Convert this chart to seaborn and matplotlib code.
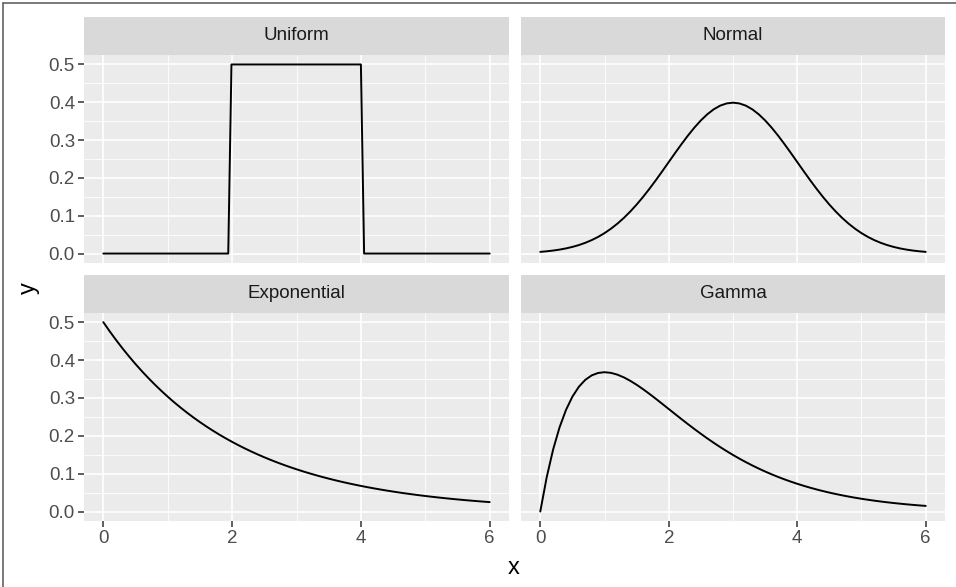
import numpy as np
import pandas as pd
import seaborn as sns
import matplotlib.pyplot as plt
from matplotlib.lines import Line2D
from matplotlib.patches import Rectangle

# Panel order
dist_names = ["Uniform", "Normal", "Exponential", "Gamma"]

# Uniform(2, 4) density
x_uniform = [0.0, 1.94, 1.99, 4.0, 4.05, 6.0]
y_uniform = [0.0, 0.0, 0.5, 0.5, 0.0, 0.0]

# Shared evaluation grid for the smooth curves (0 to 6 in steps of 0.1)
x_grid = [round(0.1 * i, 1) for i in range(61)]

# Normal(3, 1) density
y_normal = [0.00443, 0.00595, 0.00792, 0.01042, 0.01358, 0.01753, 0.02239, 0.02833,
            0.03547, 0.04398, 0.05399, 0.06562, 0.07895, 0.09405, 0.11092, 0.12952,
            0.14973, 0.17137, 0.19419, 0.21785, 0.24197, 0.26609, 0.28969, 0.31225,
            0.33322, 0.35207, 0.36827, 0.38139, 0.39104, 0.39695, 0.39894,
            0.39695, 0.39104, 0.38139, 0.36827, 0.35207, 0.33322, 0.31225, 0.28969,
            0.26609, 0.24197, 0.21785, 0.19419, 0.17137, 0.14973, 0.12952, 0.11092,
            0.09405, 0.07895, 0.06562, 0.05399, 0.04398, 0.03547, 0.02833, 0.02239,
            0.01753, 0.01358, 0.01042, 0.00792, 0.00595, 0.00443]

# Exponential(rate 0.5) density
y_expo = [0.50000, 0.47561, 0.45242, 0.43035, 0.40937, 0.38940, 0.37041, 0.35234,
          0.33516, 0.31881, 0.30327, 0.28847, 0.27441, 0.26102, 0.24829, 0.23618,
          0.22466, 0.21371, 0.20328, 0.19337, 0.18394, 0.17497, 0.16644, 0.15832,
          0.15060, 0.14325, 0.13627, 0.12962, 0.12330, 0.11729, 0.11157, 0.10612,
          0.10095, 0.09603, 0.09134, 0.08689, 0.08265, 0.07862, 0.07478, 0.07114,
          0.06767, 0.06437, 0.06123, 0.05824, 0.05540, 0.05270, 0.05013, 0.04768,
          0.04536, 0.04315, 0.04104, 0.03904, 0.03714, 0.03533, 0.03360, 0.03196,
          0.03041, 0.02892, 0.02751, 0.02617, 0.02489]

# Gamma(shape 2, rate 1) density
y_gamma = [0.00000, 0.09048, 0.16375, 0.22225, 0.26813, 0.30327, 0.32929, 0.34761,
           0.35946, 0.36591, 0.36788, 0.36616, 0.36143, 0.35429, 0.34524, 0.33470,
           0.32304, 0.31056, 0.29754, 0.28418, 0.27067, 0.25716, 0.24377, 0.23060,
           0.21772, 0.20521, 0.19311, 0.18146, 0.17027, 0.15957, 0.14936, 0.13965,
           0.13044, 0.12171, 0.11347, 0.10569, 0.09837, 0.09148, 0.08501, 0.07894,
           0.07326, 0.06795, 0.06298, 0.05835, 0.05402, 0.04999, 0.04624, 0.04275,
           0.03950, 0.03649, 0.03369, 0.03109, 0.02869, 0.02646, 0.02439, 0.02248,
           0.02071, 0.01907, 0.01756, 0.01616, 0.01487]

df = pd.concat([
    pd.DataFrame({"x": x_uniform, "y": y_uniform, "dist": "Uniform"}),
    pd.DataFrame({"x": x_grid, "y": y_normal, "dist": "Normal"}),
    pd.DataFrame({"x": x_grid, "y": y_expo, "dist": "Exponential"}),
    pd.DataFrame({"x": x_grid, "y": y_gamma, "dist": "Gamma"}),
], ignore_index=True)

sns.set_theme(style="darkgrid", rc={
    "axes.facecolor": "#EBEBEB",
    "grid.color": "white",
    "axes.edgecolor": "none",
})
plt.rcParams["font.family"] = ["Liberation Sans", "DejaVu Sans"]

g = sns.relplot(data=df, x="x", y="y", col="dist", col_wrap=2, kind="line",
                col_order=dist_names, color="black", linewidth=1.4,
                estimator=None, sort=False, height=3, aspect=1.5,
                facet_kws=dict(sharex=True, sharey=True))
fig = g.figure
W, H = 956, 587
fig.set_size_inches(W / 100, H / 100)
fig.set_dpi(100)

col_lr = [(84, 509), (521, 945)]
row_tb = [(55, 263), (312.7, 521)]
strip_h = 38

for i, name in enumerate(dist_names):
    ax = g.axes_dict[name]
    r, c = divmod(i, 2)
    l, rt = col_lr[c]
    t, b = row_tb[r]
    ax.set_position([l / W, 1 - b / H, (rt - l) / W, (b - t) / H])
    ax.set_xlim(-0.3, 6.3)
    ax.set_ylim(-0.025, 0.525)
    ax.set_xticks([0, 2, 4, 6])
    ax.set_xticks([1, 3, 5], minor=True)
    ax.set_yticks([0, 0.1, 0.2, 0.3, 0.4, 0.5])
    ax.set_yticklabels(["0.0", "0.1", "0.2", "0.3", "0.4", "0.5"])
    ax.set_yticks([0.05, 0.15, 0.25, 0.35, 0.45], minor=True)
    ax.grid(which="major", color="white", linewidth=1.2)
    ax.grid(which="minor", color="white", linewidth=0.6)
    ax.tick_params(which="minor", length=0)
    ax.tick_params(which="major", direction="out", length=4, width=1.1,
                   color="#333333", labelcolor="#4D4D4D", labelsize=13.5, pad=2.5)
    ax.tick_params(axis="x", bottom=(r == 1), labelbottom=(r == 1))
    ax.tick_params(axis="y", left=(c == 0), labelleft=(c == 0))
    ax.set_title("")
    ax.set_xlabel("")
    ax.set_ylabel("")
    for s in ax.spines.values():
        s.set_visible(False)
    # facet strip
    fig.add_artist(Rectangle((l / W, 1 - t / H), (rt - l) / W, strip_h / H,
                             transform=fig.transFigure, facecolor="#D9D9D9",
                             edgecolor="none"))
    fig.text((l + rt) / 2 / W, 1 - (t - strip_h / 2) / H, name,
             ha="center", va="center", fontsize=13.5, color="#1A1A1A")

fig.text(514 / W, 1 - 568 / H, "x", ha="center", va="center", fontsize=17, color="black")
fig.text(29 / W, 1 - 288 / H, "y", ha="center", va="center", fontsize=17,
         color="black", rotation=90)

# frame lines along top and left edges
fig.add_artist(Line2D([3 / W, 1], [1 - 3 / H, 1 - 3 / H], transform=fig.transFigure,
                      color="#555555", linewidth=1.1))
fig.add_artist(Line2D([3 / W, 3 / W], [0, 1 - 3 / H], transform=fig.transFigure,
                      color="#555555", linewidth=1.1))

fig.savefig("out.png", dpi=100)
